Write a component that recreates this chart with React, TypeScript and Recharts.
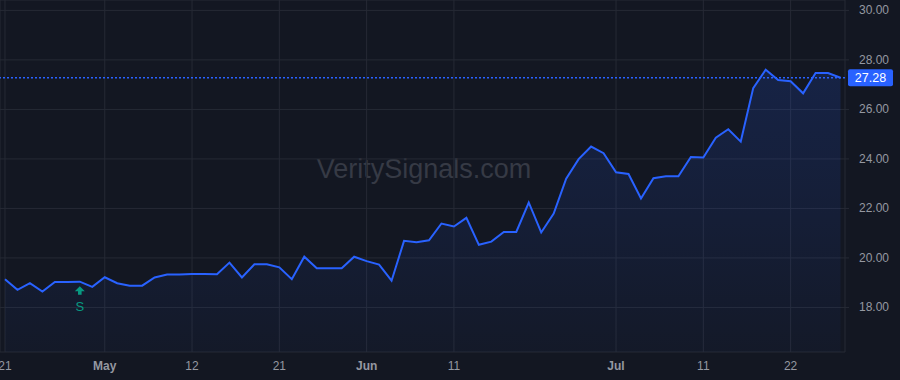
import React from 'react';
import {
  ComposedChart,
  Area,
  XAxis,
  YAxis,
  CartesianGrid,
  ReferenceLine,
  ReferenceDot,
} from 'recharts';

// trading days, Apr 21 – Jul 28
const dates = [
  'Apr 21', 'Apr 22', 'Apr 23', 'Apr 24', 'Apr 25', 'Apr 28', 'Apr 29', 'Apr 30',
  'May 1', 'May 2', 'May 5', 'May 6', 'May 7', 'May 8', 'May 9', 'May 12', 'May 13',
  'May 14', 'May 15', 'May 16', 'May 19', 'May 20', 'May 21', 'May 22', 'May 23',
  'May 27', 'May 28', 'May 29', 'May 30',
  'Jun 2', 'Jun 3', 'Jun 4', 'Jun 5', 'Jun 6', 'Jun 9', 'Jun 10', 'Jun 11', 'Jun 12',
  'Jun 13', 'Jun 16', 'Jun 17', 'Jun 18', 'Jun 20', 'Jun 23', 'Jun 24', 'Jun 25',
  'Jun 26', 'Jun 27', 'Jun 30',
  'Jul 1', 'Jul 2', 'Jul 3', 'Jul 7', 'Jul 8', 'Jul 9', 'Jul 10', 'Jul 11', 'Jul 14',
  'Jul 15', 'Jul 16', 'Jul 17', 'Jul 18', 'Jul 21', 'Jul 22', 'Jul 23', 'Jul 24',
  'Jul 25', 'Jul 28',
];

const prices = [
  19.14, 18.71, 18.98, 18.64, 19.03, 19.03, 19.04, 18.83, 19.22, 18.98,
  18.88, 18.88, 19.21, 19.33, 19.33, 19.35, 19.35, 19.34, 19.81, 19.21,
  19.74, 19.74, 19.62, 19.14, 20.05, 19.58, 19.58, 19.58, 20.05, 19.87,
  19.73, 19.08, 20.69, 20.63, 20.71, 21.39, 21.27, 21.62, 20.53, 20.66,
  21.05, 21.05, 22.24, 21.03, 21.79, 23.2, 23.99, 24.5, 24.23, 23.46,
  23.39, 22.4, 23.22, 23.3, 23.3, 24.08, 24.06, 24.86, 25.2, 24.7,
  26.86, 27.6, 27.19, 27.14, 26.65, 27.47, 27.47, 27.28,
];

const xTicks = [0, 8, 15, 22, 29, 36, 49, 56, 63];
const monthTicks = [8, 29, 49];
const yTicks = [18, 20, 22, 24, 26, 28, 30];
const lastPrice = 27.28;
const signalIndex = 6;
const signalLabel = 'S';

const data = prices.map((v, i) => ({ i, date: dates[i], v }));

const AXIS_TEXT = '#9598a1';
const FONT = '"Liberation Sans", Arial, sans-serif';

const XTick = (props: any) => {
  const { x, payload } = props;
  const [mon, day] = (dates[payload.value] || '').split(' ');
  const isMonth = monthTicks.includes(payload.value);
  return (
    <text
      x={x}
      y={370}
      textAnchor="middle"
      fill={AXIS_TEXT}
      fontSize={12}
      fontWeight={isMonth ? 700 : 400}
      fontFamily={FONT}
    >
      {isMonth ? mon : day}
    </text>
  );
};

const YTick = (props: any) => {
  const { y, payload } = props;
  return (
    <text x={874} y={y + 4} textAnchor="middle" fill={AXIS_TEXT} fontSize={12} fontFamily={FONT}>
      {Number(payload.value).toFixed(2)}
    </text>
  );
};

const PriceTag = (props: any) => {
  const vb = props.viewBox || {};
  const y = vb.y ?? 0;
  const right = (vb.x ?? 0) + (vb.width ?? 0);
  return (
    <g>
      <rect x={right + 3} y={y - 8.5} width={45} height={17} rx={2} fill="#2962ff" />
      <text x={right + 25.5} y={y + 4.5} textAnchor="middle" fill="#ffffff" fontSize={12.5} fontFamily={FONT}>
        {lastPrice.toFixed(2)}
      </text>
    </g>
  );
};

const SignalMark = (props: any) => {
  const { cx, cy } = props;
  const c = '#089981';
  return (
    <g>
      <path
        d={`M${cx} ${cy + 4.5} L${cx + 5} ${cy + 9.5} L${cx + 1.8} ${cy + 9.5} L${cx + 1.8} ${cy + 13} L${cx - 1.8} ${cy + 13} L${cx - 1.8} ${cy + 9.5} L${cx - 5} ${cy + 9.5} Z`}
        fill={c}
      />
      <text x={cx} y={cy + 29.5} textAnchor="middle" fill={c} fontSize={13} fontFamily={FONT}>
        {signalLabel}
      </text>
    </g>
  );
};

export default function App() {
  return (
    <div style={{ position: 'fixed', left: 0, top: 0, width: 900, height: 380, background: '#131722' }}>
      <div
        style={{
          position: 'absolute',
          left: 0,
          width: 848,
          top: 154,
          textAlign: 'center',
          fontFamily: FONT,
          fontSize: 27,
          color: '#363a45',
          pointerEvents: 'none',
        }}
      >
        VeritySignals.com
      </div>
      <ComposedChart width={900} height={380} data={data} margin={{ top: 0, right: 0, bottom: 0, left: 0 }}>
        <defs>
          <linearGradient id="areaFill" x1="0" y1="0" x2="0" y2="1">
            <stop offset="0%" stopColor="#2962ff" stopOpacity={0.27} />
            <stop offset="100%" stopColor="#2962ff" stopOpacity={0.05} />
          </linearGradient>
        </defs>
        <CartesianGrid stroke="#262a35" strokeWidth={1} />
        <XAxis
          dataKey="i"
          type="number"
          domain={[-0.4, 67.36]}
          ticks={xTicks}
          allowDataOverflow
          axisLine={false}
          tickLine={false}
          height={28}
          tick={<XTick />}
          interval={0}
        />
        <YAxis
          orientation="right"
          type="number"
          domain={[16.2, 30.42]}
          ticks={yTicks}
          allowDataOverflow
          axisLine={false}
          tickLine={{ stroke: '#262a35' }}
          tickSize={4}
          width={55}
          tick={<YTick />}
          interval={0}
        />
        <Area
          type="linear"
          dataKey="v"
          stroke="#2962ff"
          strokeWidth={2}
          fill="url(#areaFill)"
          dot={false}
          activeDot={false}
          isAnimationActive={false}
        />
        <ReferenceLine
          y={lastPrice}
          stroke="#2962ff"
          strokeWidth={1.4}
          strokeDasharray="2 2"
          label={<PriceTag />}
        />
        <ReferenceDot
          x={signalIndex}
          y={prices[signalIndex]}
          r={0}
          shape={(p: any) => <SignalMark {...p} />}
        />
      </ComposedChart>
    </div>
  );
}
